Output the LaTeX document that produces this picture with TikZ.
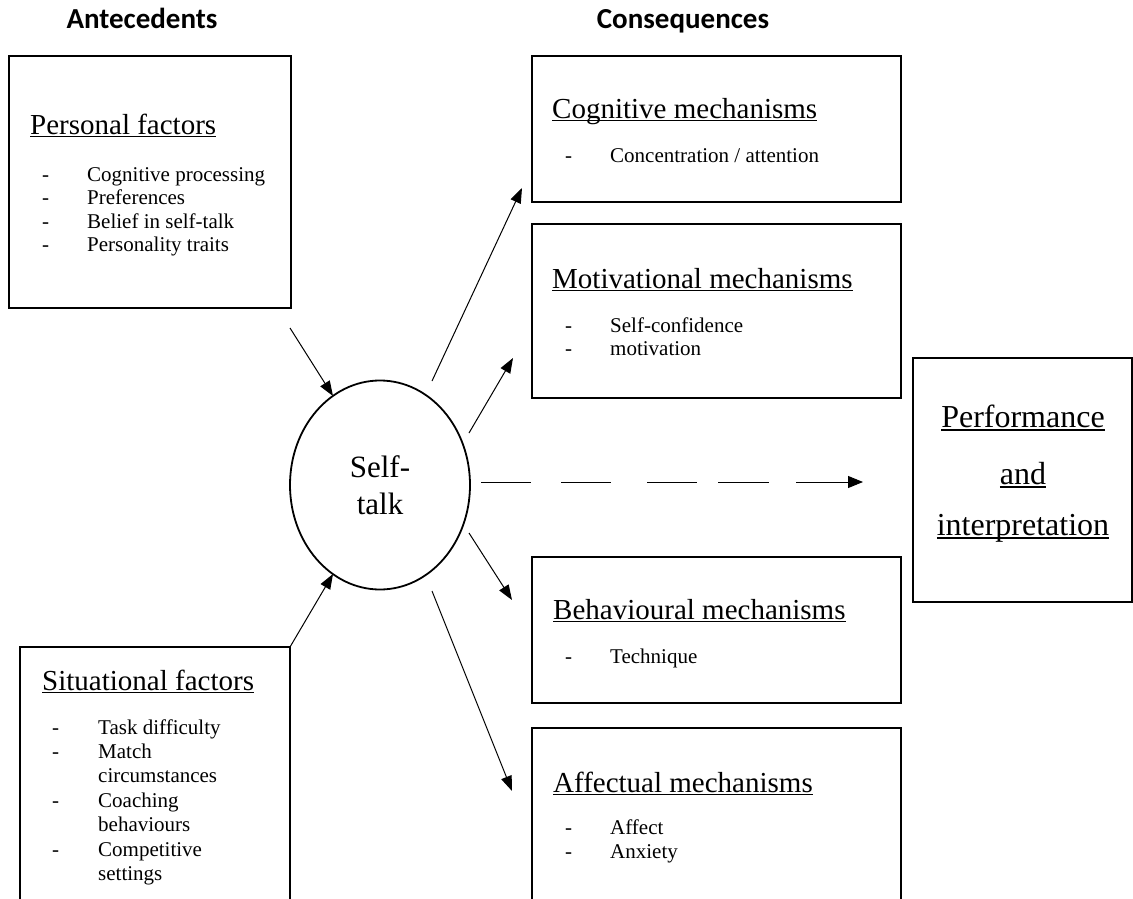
\documentclass[tikz,border=0pt]{standalone}
\usepackage{fontspec}
\setmainfont{Liberation Serif}
\newfontfamily\headfont{Carlito}
\usetikzlibrary{shapes.geometric,arrows.meta}
\newcommand\ulin[1]{\setbox0=\hbox{#1}\rlap{\rule[-0.115em]{\wd0}{0.06em}}\box0}
\begin{document}
\begin{tikzpicture}[x=1pt,y=-1pt,
  box/.style={draw, line width=1.8pt, inner sep=0pt},
  ttl/.style={inner sep=0pt, anchor=base west, font=\fontsize{29}{33}\selectfont},
  itm/.style={inner sep=0pt, anchor=base west, font=\fontsize{21}{24}\selectfont},
  big/.style={inner sep=0pt, anchor=base, font=\fontsize{32}{37}\selectfont},
  arr/.style={line width=1pt, -{Triangle[length=15pt,width=11pt]}},
  hd/.style={inner sep=0pt, anchor=base, font=\headfont\bfseries\fontsize{29}{32}\selectfont}]
\useasboundingbox (0,0) rectangle (1133,899);
% headings
\node[hd] (hA) at (142,29) {Antecedents};
\node[hd] (hC) at (683,29) {Consequences};
% boxes
\node[box, minimum width=282pt, minimum height=252pt] (pers) at (150,182) {};
\node[box, minimum width=369pt, minimum height=146pt] (cog) at (716.5,129) {};
\node[box, minimum width=369pt, minimum height=174pt] (mot) at (716.5,311) {};
\node[box, minimum width=369pt, minimum height=146pt] (beh) at (716.5,630) {};
\node[box, minimum width=219pt, minimum height=244pt] (perf) at (1022.5,480) {};
\coordinate (sitBL) at (20,899);
\coordinate (sitTL) at (20,647);
\coordinate (sitTR) at (290,647);
\coordinate (sitBR) at (290,899);
\draw[line width=1.8pt] (sitBL) -- (sitTL) -- (sitTR) -- (sitBR);
\coordinate (affBL) at (532,899);
\coordinate (affTL) at (532,728);
\coordinate (affTR) at (901,728);
\coordinate (affBR) at (901,899);
\draw[line width=1.8pt] (affBL) -- (affTL) -- (affTR) -- (affBR);
% self-talk
\node[ellipse, draw, line width=1.8pt, minimum width=180pt, minimum height=209pt, inner sep=0pt,
      align=center, font=\fontsize{31}{37}\selectfont] (st) at (380,485) {Self-\\talk};
% personal text
\node[ttl] (pT) at (30,134) {\ulin{Personal factors}};
\node[itm] (pd1) at (42,181) {-};   \node[itm] (p1) at (87,181) {Cognitive processing};
\node[itm] (pd2) at (42,204.5) {-}; \node[itm] (p2) at (87,204.5) {Preferences};
\node[itm] (pd3) at (42,228) {-};   \node[itm] (p3) at (87,228) {Belief in self-talk};
\node[itm] (pd4) at (42,251.5) {-}; \node[itm] (p4) at (87,251.5) {Personality traits};
% situational text
\node[ttl] (sT) at (42,690) {\ulin{Situational factors}};
\node[itm] (sd1) at (52,734) {-};   \node[itm] (s1) at (98,734) {Task difficulty};
\node[itm] (sd2) at (52,758.4) {-}; \node[itm] (s2) at (98,758.4) {Match};
                                     \node[itm] (s3) at (98,782.8) {circumstances};
\node[itm] (sd4) at (52,807.2) {-}; \node[itm] (s4) at (98,807.2) {Coaching};
                                     \node[itm] (s5) at (98,831.6) {behaviours};
\node[itm] (sd6) at (52,856) {-};   \node[itm] (s6) at (98,856) {Competitive};
                                     \node[itm] (s7) at (98,880.4) {settings};
% cognitive
\node[ttl] (cT) at (552,118) {\ulin{Cognitive mechanisms}};
\node[itm] (cd1) at (565,162) {-}; \node[itm] (c1) at (610,162) {Concentration / attention};
% motivational
\node[ttl] (mT) at (552,288) {\ulin{Motivational mechanisms}};
\node[itm] (md1) at (565,332) {-}; \node[itm] (m1) at (610,332) {Self-confidence};
\node[itm] (md2) at (565,355.5) {-}; \node[itm] (m2) at (610,355.5) {motivation};
% behavioural
\node[ttl] (bT) at (553,619) {\ulin{Behavioural mechanisms}};
\node[itm] (bd1) at (565,663) {-}; \node[itm] (b1) at (610,663) {Technique};
% affectual
\node[ttl] (aT) at (553,792) {\ulin{Affectual mechanisms}};
\node[itm] (ad1) at (565,834) {-}; \node[itm] (a1) at (610,834) {Affect};
\node[itm] (ad2) at (565,858.5) {-}; \node[itm] (a2) at (610,858.5) {Anxiety};
% performance
\node[big] (pf1) at (1023,427) {\ulin{Performance}};
\node[big] (pf2) at (1023,484) {\ulin{and}};
\node[big] (pf3) at (1023,535) {\ulin{interpretation}};
% connector end points
\coordinate (e1a) at (290,328);  \coordinate (e1b) at (333,396);
\coordinate (e2b) at (333,574);
\coordinate (e3a) at (432,381);  \coordinate (e3b) at (522,188);
\coordinate (e4a) at (469,433);  \coordinate (e4b) at (513,358);
\coordinate (e5a) at (481,482);  \coordinate (e5b) at (863,482);
\coordinate (e6a) at (469,533);  \coordinate (e6b) at (512,600);
\coordinate (e7a) at (432,591);  \coordinate (e7b) at (512,791);
\draw[arr] (e1a) -- (e1b);
\draw[arr] (sitTR) -- (e2b);
\draw[arr] (e3a) -- (e3b);
\draw[arr] (e4a) -- (e4b);
\draw[arr] (e6a) -- (e6b);
\draw[arr] (e7a) -- (e7b);
\draw[line width=1pt, dash pattern=on 50pt off 30pt on 50pt off 36pt on 50pt off 21pt on 51pt off 27pt on 120pt,
      -{Triangle[length=15pt,width=12pt]}] (e5a) -- (e5b);
\end{tikzpicture}
\end{document}
